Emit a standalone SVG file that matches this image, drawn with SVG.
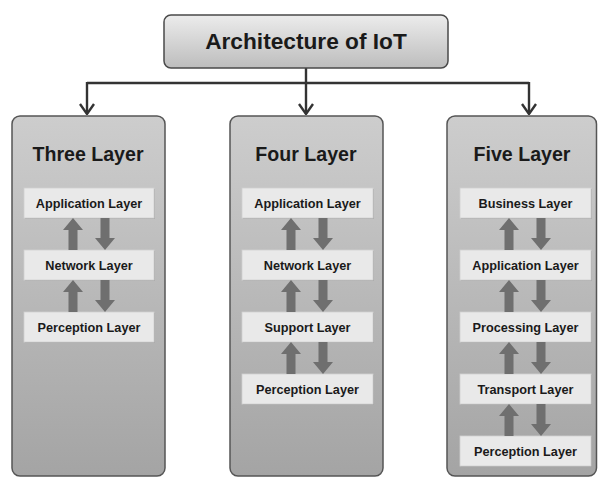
<svg xmlns="http://www.w3.org/2000/svg" width="598" height="477" viewBox="0 0 598 477">
  <defs>
    <linearGradient id="gTitle" x1="0" y1="0" x2="0" y2="1">
      <stop offset="0" stop-color="#ececec"/>
      <stop offset="1" stop-color="#bdbdbd"/>
    </linearGradient>
    <linearGradient id="gPanel" x1="0" y1="0" x2="0" y2="1">
      <stop offset="0" stop-color="#cdcdcd"/>
      <stop offset="1" stop-color="#a4a4a4"/>
    </linearGradient>
    <!-- open V arrowhead, drawn pointing along +x -->
    <marker id="vhead" viewBox="0 0 12 16" refX="11" refY="8" markerWidth="12" markerHeight="16" markerUnits="userSpaceOnUse" orient="auto">
      <path d="M1,1 L11,8 L1,15" fill="none" stroke="#333" stroke-width="2.4"/>
    </marker>
    <!-- block arrows used between layer boxes -->
    <path id="up" d="M-4.5,32 L-4.5,12 L-10,12 L0,0 L10,12 L4.5,12 L4.5,32 Z"/>
    <path id="down" d="M-4.5,0 L4.5,0 L4.5,20 L10,20 L0,32 L-10,20 L-4.5,20 Z"/>
  </defs>
  <style>
    .title { fill: url(#gTitle); stroke: #4a4a4a; stroke-width: 1.5; }
    .panel { fill: url(#gPanel); stroke: #555; stroke-width: 1.5; }
    .layer { fill: #e9e9e9; stroke: #d0d0d0; stroke-width: 0.8; }
    .shadow { fill: #9a9a9a; opacity: 0.6; }
    .arr { fill: #6f6f6f; }
    text { font-family: "Liberation Sans", Arial, sans-serif; font-weight: bold; fill: #1a1a1a; text-anchor: middle; }
    .t-main { font-size: 22.7px; }
    .t-panel { font-size: 19.6px; }
    .t-layer { font-size: 12.7px; }
    .conn { fill: none; stroke: #333; stroke-width: 2.4; }
  </style>

  <!-- connectors -->
  <g id="connectors">
    <path class="conn" d="M306,68 L306,83"/>
    <path class="conn" d="M87,83 L529,83"/>
    <path class="conn" d="M87,82 L87,114" marker-end="url(#vhead)"/>
    <path class="conn" d="M306,83 L306,114" marker-end="url(#vhead)"/>
    <path class="conn" d="M529,82 L529,114" marker-end="url(#vhead)"/>
  </g>

  <!-- root -->
  <g id="root">
    <rect class="title" x="164" y="15" width="284" height="53" rx="7"/>
    <text class="t-main" x="306" y="49">Architecture of IoT</text>
  </g>

  <!-- three layer model -->
  <g id="three-layer">
    <rect class="panel" x="12" y="116" width="153" height="360" rx="8"/>
    <text class="t-panel" x="88" y="161">Three Layer</text>
    <g id="t-app">
      <rect class="shadow" x="25" y="189" width="130" height="30"/>
      <rect class="layer" x="24" y="188" width="130" height="30"/>
      <text class="t-layer" x="89" y="208">Application Layer</text>
    </g>
    <g id="t-net">
      <rect class="shadow" x="25" y="251" width="130" height="30"/>
      <rect class="layer" x="24" y="250" width="130" height="30"/>
      <text class="t-layer" x="89" y="270">Network Layer</text>
    </g>
    <g id="t-per">
      <rect class="shadow" x="25" y="313" width="130" height="30"/>
      <rect class="layer" x="24" y="312" width="130" height="30"/>
      <text class="t-layer" x="89" y="332">Perception Layer</text>
    </g>
    <g class="arr">
      <use href="#up" x="73" y="218"/><use href="#down" x="105" y="218"/>
      <use href="#up" x="73" y="280"/><use href="#down" x="105" y="280"/>
    </g>
  </g>

  <!-- four layer model -->
  <g id="four-layer">
    <rect class="panel" x="230" y="116" width="153" height="360" rx="8"/>
    <text class="t-panel" x="306" y="161">Four Layer</text>
    <g id="f-app">
      <rect class="shadow" x="243" y="189" width="131" height="30"/>
      <rect class="layer" x="242" y="188" width="131" height="30"/>
      <text class="t-layer" x="307.5" y="208">Application Layer</text>
    </g>
    <g id="f-net">
      <rect class="shadow" x="243" y="251" width="131" height="30"/>
      <rect class="layer" x="242" y="250" width="131" height="30"/>
      <text class="t-layer" x="307.5" y="270">Network Layer</text>
    </g>
    <g id="f-sup">
      <rect class="shadow" x="243" y="313" width="131" height="30"/>
      <rect class="layer" x="242" y="312" width="131" height="30"/>
      <text class="t-layer" x="307.5" y="332">Support Layer</text>
    </g>
    <g id="f-per">
      <rect class="shadow" x="243" y="375" width="131" height="30"/>
      <rect class="layer" x="242" y="374" width="131" height="30"/>
      <text class="t-layer" x="307.5" y="394">Perception Layer</text>
    </g>
    <g class="arr">
      <use href="#up" x="291" y="218"/><use href="#down" x="323" y="218"/>
      <use href="#up" x="291" y="280"/><use href="#down" x="323" y="280"/>
      <use href="#up" x="291" y="342"/><use href="#down" x="323" y="342"/>
    </g>
  </g>

  <!-- five layer model -->
  <g id="five-layer">
    <rect class="panel" x="447" y="116" width="149.5" height="360" rx="8"/>
    <text class="t-panel" x="522" y="161">Five Layer</text>
    <g id="v-bus">
      <rect class="shadow" x="461" y="189" width="131" height="30"/>
      <rect class="layer" x="460" y="188" width="131" height="30"/>
      <text class="t-layer" x="525.5" y="208">Business Layer</text>
    </g>
    <g id="v-app">
      <rect class="shadow" x="461" y="251" width="131" height="30"/>
      <rect class="layer" x="460" y="250" width="131" height="30"/>
      <text class="t-layer" x="525.5" y="270">Application Layer</text>
    </g>
    <g id="v-pro">
      <rect class="shadow" x="461" y="313" width="131" height="30"/>
      <rect class="layer" x="460" y="312" width="131" height="30"/>
      <text class="t-layer" x="525.5" y="332">Processing Layer</text>
    </g>
    <g id="v-tra">
      <rect class="shadow" x="461" y="375" width="131" height="30"/>
      <rect class="layer" x="460" y="374" width="131" height="30"/>
      <text class="t-layer" x="525.5" y="394">Transport Layer</text>
    </g>
    <g id="v-per">
      <rect class="shadow" x="461" y="437" width="131" height="30"/>
      <rect class="layer" x="460" y="436" width="131" height="30"/>
      <text class="t-layer" x="525.5" y="456">Perception Layer</text>
    </g>
    <g class="arr">
      <use href="#up" x="509" y="218"/><use href="#down" x="541" y="218"/>
      <use href="#up" x="509" y="280"/><use href="#down" x="541" y="280"/>
      <use href="#up" x="509" y="342"/><use href="#down" x="541" y="342"/>
      <use href="#up" x="509" y="404"/><use href="#down" x="541" y="404"/>
    </g>
  </g>
</svg>
